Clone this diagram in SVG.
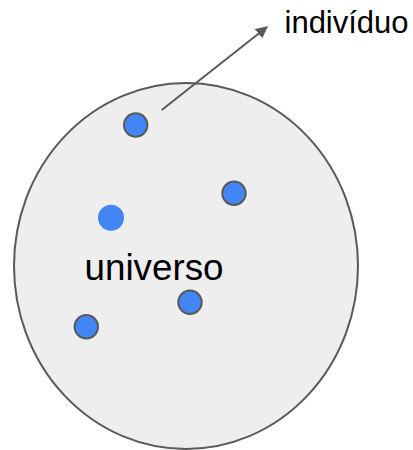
<svg xmlns="http://www.w3.org/2000/svg" width="413" height="450" viewBox="0 0 413 450">
<defs>
<style>
.dot{fill:#4285f4;stroke:#595959;stroke-width:2}
.lbl{font-family:"Liberation Sans",Arial,sans-serif;fill:#000}
</style>
<marker id="ah" viewBox="0 0 10 10" refX="9" refY="5" markerWidth="6" markerHeight="6" markerUnits="strokeWidth" orient="auto">
<path d="M0,0 L10,5 L0,10 z" fill="#595959"/>
</marker>
</defs>
<rect width="413" height="450" fill="#fff"/>
<g id="universo">
<ellipse cx="186" cy="266" rx="172" ry="183" fill="#eeeeee" stroke="#595959" stroke-width="2"/>
<text class="lbl" x="84.5" y="280" font-size="36.8">universo</text>
</g>
<g id="dot1"><circle class="dot" cx="135.7" cy="125" r="11.7"/></g>
<g id="dot2"><circle class="dot" cx="234" cy="193.3" r="11.7"/></g>
<g id="dot3"><circle cx="111" cy="217.7" r="13" fill="#4285f4"/></g>
<g id="dot4"><circle class="dot" cx="190" cy="302.3" r="11.7"/></g>
<g id="dot5"><circle class="dot" cx="86.3" cy="326.7" r="11.7"/></g>
<g id="individuo"><text class="lbl" x="284.5" y="33.3" font-size="31">indivíduo</text></g>
<g id="connectors">
<line x1="161.7" y1="110" x2="267" y2="27" stroke="#595959" stroke-width="2" marker-end="url(#ah)"/>
</g>
</svg>
